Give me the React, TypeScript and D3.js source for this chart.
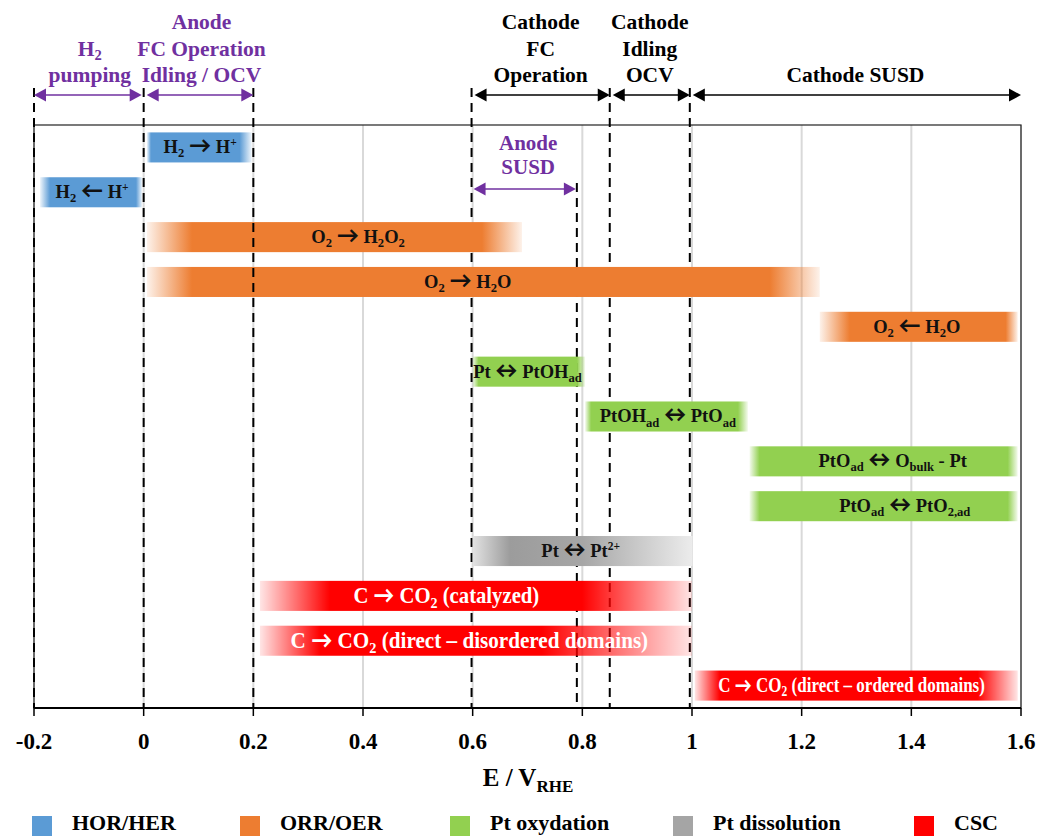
import React from "react";
import * as d3 from "d3";

// ---------- data ----------
const xTicks = [-0.2, 0, 0.2, 0.4, 0.6, 0.8, 1, 1.2, 1.4, 1.6];
const xTickLabels = ["-0.2", "0", "0.2", "0.4", "0.6", "0.8", "1", "1.2", "1.4", "1.6"];
const categories = ["HOR/HER", "ORR/OER", "Pt oxydation", "Pt dissolution", "CSC"];
const categoryColors = ["#5B9BD5", "#ED7D31", "#92D050", "#A5A5A5", "#FF0000"];

const reactionLabels = [
  "H_{2} → H^{+}",
  "H_{2} ← H^{+}",
  "O_{2} → H_{2}O_{2}",
  "O_{2} → H_{2}O",
  "O_{2} ← H_{2}O",
  "Pt ↔ PtOH_{ad}",
  "PtOH_{ad} ↔ PtO_{ad}",
  "PtO_{ad} ↔ O_{bulk} - Pt",
  "PtO_{ad} ↔ PtO_{2,ad}",
  "Pt ↔ Pt^{2+}",
  "C → CO_{2} (catalyzed)",
  "C → CO_{2} (direct – disordered domains)",
  "C → CO_{2} (direct – ordered domains)",
];
const reactionCategory = [0, 0, 1, 1, 1, 2, 2, 2, 2, 3, 4, 4, 4];
const reactionStart = [0.006, -0.189, 0.006, 0.006, 1.233, 0.6, 0.805, 1.105, 1.105, 0.6, 0.212, 0.212, 1.005];
const reactionEnd = [0.197, -0.003, 0.69, 1.233, 1.594, 0.805, 1.102, 1.594, 1.594, 1.001, 1.0, 1.0, 1.594];
const reactionLabelAt = [0.103, -0.094, 0.391, 0.591, 1.41, 0.70, 0.956, 1.366, 1.388, 0.797, 0.552, 0.594, 1.291];

const anodeDashed = [-0.2, 0, 0.2];
const cathodeDashed = [0.598, 0.79, 0.85, 0.996];

const regionFrom = [-0.2, 0.0, 0.598, 0.85, 0.996];
const regionTo = [0.0, 0.2, 0.85, 0.996, 1.6];
const regionText = [
  ["H_{2}", "pumping"],
  ["Anode", "FC Operation", "Idling / OCV"],
  ["Cathode", "FC", "Operation"],
  ["Cathode", "Idling", "OCV"],
  ["Cathode SUSD"],
];
const regionPurple = [true, true, false, false, false];

const anodeSusdFrom = 0.598;
const anodeSusdTo = 0.79;
const anodeSusdText = ["Anode", "SUSD"];

// ---------- styling ----------
const W = 1046;
const H = 836;
const FONT = "Liberation Serif";
const ARROWFONT = "Lato";
const PURPLE = "#7030A0";
const fadeLeftPx = [4, 10, 45, 45, 30, 6, 6, 10, 10, 0, 70, 60, 25];
const fadeRightPx = [12, 6, 40, 50, 12, 8, 10, 10, 10, 0, 110, 150, 40];
const labelSize = [18.5, 18.5, 18.5, 18.5, 18.5, 18.5, 18.5, 18.5, 18.5, 18.5, 23, 23, 20];
const labelSqueeze = [1, 1, 1, 1, 1, 1, 1, 1, 1, 1, 0.9, 0.92, 0.85];

function renderRich(str: string, size: number, keyBase: string, arrowScale = 1.2) {
  const parts = str.split(/(_\{[^}]*\}|\^\{[^}]*\}|[→←↔])/).filter((p) => p.length > 0);
  const out: any[] = [];
  let shift = 0;
  parts.forEach((p, i) => {
    if (p.startsWith("_{")) {
      const t = p.slice(2, -1);
      const d = size * 0.22;
      out.push(
        <tspan key={keyBase + i} dy={d - shift} fontSize={size * 0.68} fontFamily={FONT}>{t}</tspan>
      );
      shift = d;
    } else if (p.startsWith("^{")) {
      const t = p.slice(2, -1);
      const d = -size * 0.38;
      out.push(
        <tspan key={keyBase + i} dy={d - shift} fontSize={size * 0.62} fontFamily={FONT}>{t}</tspan>
      );
      shift = d;
    } else if (p === "→" || p === "←" || p === "↔") {
      out.push(
        <tspan key={keyBase + i} dy={-shift} fontFamily={ARROWFONT} fontWeight="900" fontSize={size * arrowScale}>{p}</tspan>
      );
      shift = 0;
    } else {
      out.push(
        <tspan key={keyBase + i} dy={-shift} fontFamily={FONT}>{p}</tspan>
      );
      shift = 0;
    }
  });
  return out;
}

function Arrow({ x1, x2, y, color }: { x1: number; x2: number; y: number; color: string }) {
  const hl = 12;
  const hw = 6.5;
  return (
    <g>
      <line x1={x1 + hl - 1} x2={x2 - hl + 1} y1={y} y2={y} stroke={color} strokeWidth={1.6} />
      <path d={`M${x1},${y} L${x1 + hl},${y - hw} L${x1 + hl},${y + hw} Z`} fill={color} />
      <path d={`M${x2},${y} L${x2 - hl},${y - hw} L${x2 - hl},${y + hw} Z`} fill={color} />
    </g>
  );
}

export default function App() {
  const plotTop = 125;
  const plotBottom = 708;
  const x = d3.scaleLinear().domain([-0.2, 1.6]).range([34, 1021]);
  const y = d3
    .scaleBand<number>()
    .domain(d3.range(reactionLabels.length))
    .range([plotTop, plotBottom])
    .paddingInner(0.33)
    .paddingOuter(0.165);
  const bw = y.bandwidth();

  const gradients = reactionLabels.map((_, i) => {
    const x0 = x(reactionStart[i]);
    const x1 = x(reactionEnd[i]);
    const w = x1 - x0;
    const col = categoryColors[reactionCategory[i]];
    if (reactionCategory[i] === 3) {
      return (
        <linearGradient id={`g${i}`} key={i} x1="0" x2="1" y1="0" y2="0">
          <stop offset="0" stopColor="#e2e2e2" />
          <stop offset="0.17" stopColor="#9c9c9c" />
          <stop offset="0.5" stopColor="#a6a6a6" />
          <stop offset="1" stopColor="#ececec" />
        </linearGradient>
      );
    }
    const fl = fadeLeftPx[i] / w;
    const fr = 1 - fadeRightPx[i] / w;
    return (
      <linearGradient id={`g${i}`} key={i} x1="0" x2="1" y1="0" y2="0">
        <stop offset="0" stopColor={col} stopOpacity={0.1} />
        <stop offset={fl} stopColor={col} stopOpacity={1} />
        <stop offset={fr} stopColor={col} stopOpacity={1} />
        <stop offset="1" stopColor={col} stopOpacity={0.1} />
      </linearGradient>
    );
  });

  const arrowY = 95;
  const lineH = 26.5;

  return (
    <svg width={W} height={H} style={{ position: "absolute", left: 0, top: 0 }} fontWeight="bold">
      <defs>{gradients}</defs>
      <rect x={0} y={0} width={W} height={H} fill="#ffffff" />
      {/* gridlines */}
      {xTicks.map((t) => (
        <line key={"gr" + t} x1={x(t)} x2={x(t)} y1={plotTop} y2={plotBottom} stroke="#d9d9d9" strokeWidth={2} />
      ))}
      {/* frame */}
      <rect x={x(-0.2)} y={plotTop} width={x(1.6) - x(-0.2)} height={plotBottom - plotTop} fill="none" stroke="#222" strokeWidth={1.2} />

      {/* cathode dashed lines (behind bars) */}
      {cathodeDashed.map((v, i) => (
        <line
          key={"cl" + i}
          x1={x(v)}
          x2={x(v)}
          y1={v === 0.79 ? 183 : 88}
          y2={plotBottom}
          stroke="#000"
          strokeWidth={2}
          strokeDasharray="9,6"
        />
      ))}

      {/* bars */}
      {reactionLabels.map((lab, i) => {
        const x0 = x(reactionStart[i]);
        const x1 = x(reactionEnd[i]);
        const yy = y(i)!;
        return <rect key={"bar" + i} x={x0} y={yy} width={x1 - x0} height={bw} fill={`url(#g${i})`} />;
      })}

      {/* anode dashed lines (over bars) */}
      {anodeDashed.map((v, i) => (
        <line
          key={"al" + i}
          x1={x(v)}
          x2={x(v)}
          y1={88}
          y2={plotBottom}
          stroke="#000"
          strokeWidth={2}
          strokeDasharray="9,6"
        />
      ))}

      {/* bar labels */}
      {reactionLabels.map((lab, i) => {
        const yy = y(i)! + bw / 2;
        const white = reactionCategory[i] === 4;
        const cx = x(reactionLabelAt[i]);
        return (
          <g key={"lab" + i} transform={`translate(${cx},${yy}) scale(${labelSqueeze[i]},1)`}>
            <text
              x={0}
              y={labelSize[i] * 0.32}
              textAnchor="middle"
              fontSize={labelSize[i]}
              fontFamily={FONT}
              fill={white ? "#ffffff" : "#111"}
            >
              {renderRich(lab, labelSize[i], "l" + i, white ? 1.0 : 1.2)}
            </text>
          </g>
        );
      })}

      {/* axis */}
      <line x1={x(-0.2)} x2={x(1.6)} y1={plotBottom} y2={plotBottom} stroke="#000" strokeWidth={2} />
      {xTicks.map((t, i) => (
        <g key={"tk" + t}>
          <line x1={x(t)} x2={x(t)} y1={plotBottom} y2={plotBottom + 8} stroke="#000" strokeWidth={1.5} />
          <text x={x(t)} y={plotBottom + 41} textAnchor="middle" fontSize={23} fontFamily={FONT} fill="#000">
            {xTickLabels[i]}
          </text>
        </g>
      ))}
      <text x={528} y={786} textAnchor="middle" fontSize={25} fontFamily={FONT} fill="#000">
        {renderRich("E / V_{RHE}", 25, "ax")}
      </text>

      {/* region annotations */}
      {regionText.map((lines, i) => {
        const col = regionPurple[i] ? PURPLE : "#000";
        const cx = (x(regionFrom[i]) + x(regionTo[i])) / 2 + (i === 1 ? 3 : i === 0 ? 1 : 0);
        const a = x(regionFrom[i]) + (i === 0 ? 0 : 3);
        const b = x(regionTo[i]) - (i === 0 ? 2 : 0);
        return (
          <g key={"rg" + i}>
            <Arrow x1={a} x2={b} y={arrowY} color={col} />
            {lines.map((ln, j) => (
              <text
                key={j}
                x={cx}
                y={82 - (lines.length - 1 - j) * lineH}
                textAnchor="middle"
                fontSize={21.5}
                fontFamily={FONT}
                fill={col}
              >
                {renderRich(ln, 21.5, "r" + i + j)}
              </text>
            ))}
          </g>
        );
      })}

      {/* anode SUSD */}
      <Arrow x1={x(anodeSusdFrom) + 2} x2={x(anodeSusdTo) - 1} y={189} color={PURPLE} />
      {anodeSusdText.map((ln, j) => (
        <text
          key={"as" + j}
          x={(x(anodeSusdFrom) + x(anodeSusdTo)) / 2 + 4}
          y={150 + j * 24}
          textAnchor="middle"
          fontSize={21}
          fontFamily={FONT}
          fill={PURPLE}
        >
          {ln}
        </text>
      ))}

      {/* legend */}
      {categories.map((c, i) => {
        const lx = [32, 240, 450, 673, 914][i];
        return (
          <g key={"lg" + c}>
            <rect x={lx} y={816} width={20} height={20} fill={categoryColors[i]} />
            <text x={lx + 40} y={830} fontSize={22} fontFamily={FONT} fill="#000">
              {c}
            </text>
          </g>
        );
      })}
    </svg>
  );
}
